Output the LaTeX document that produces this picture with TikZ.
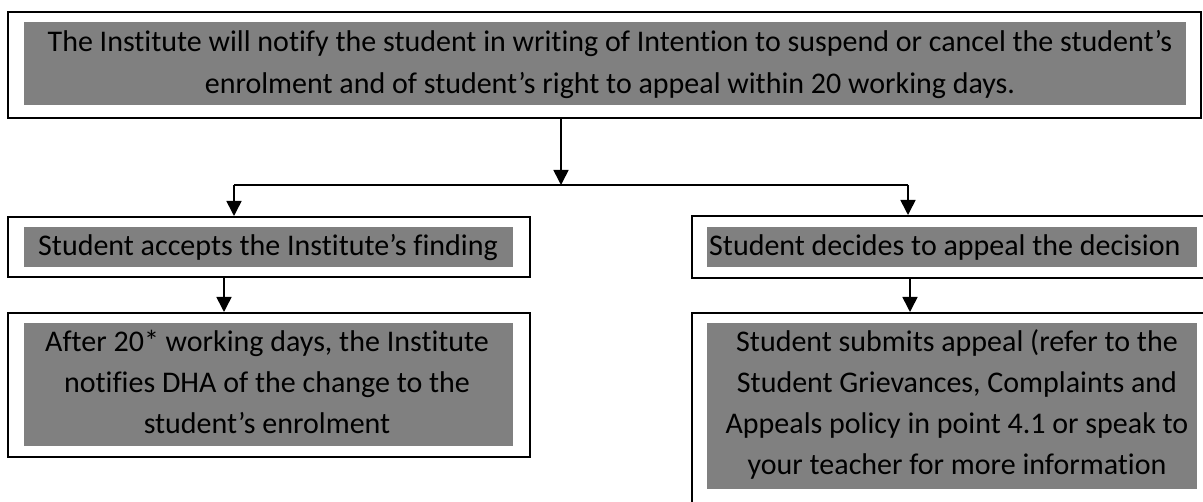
\documentclass[tikz,border=0pt]{standalone}
\usepackage{fontspec}
\setmainfont{Carlito}[Ligatures={NoCommon,NoContextual}]
\usetikzlibrary{arrows.meta}
\definecolor{hlgray}{HTML}{808080}
\tikzset{
  frame/.style={draw=black, line width=1.6pt, fill=white, inner sep=0pt, anchor=north west},
  topframe/.style={frame, line width=2pt},
  shade/.style={fill=hlgray, draw=none, inner sep=0pt, anchor=north west},
  txt/.style={inner sep=0pt, anchor=base, font=\fontsize{30}{41.5}\selectfont, text=black},
  arr/.style={line width=1.6pt, -{Triangle[width=15pt,length=15pt]}},
  plain/.style={line width=1.6pt}
}
\begin{document}
\begin{tikzpicture}[x=1pt,y=-1pt]
\useasboundingbox (0,0) rectangle (1203,502);
% top
\node[topframe, minimum width=1193pt, minimum height=106pt] (top) at (7,11) {};
\node[shade, minimum width=1162pt, minimum height=83pt] (topg) at (24,22) {};
\node[txt, align=center] (topt) at (610,93.5) {The Institute will notify the student in writing of Intention to suspend or cancel the student’s\\enrolment and of student’s right to appeal within 20 working days.};
% left column
\node[frame, minimum width=522pt, minimum height=60pt] (l3) at (7,216) {};
\node[shade, minimum width=489pt, minimum height=40pt] (l3g) at (24,227) {};
\node[txt] (l3t) at (268,255.5) {Student accepts the Institute’s finding};
\node[frame, minimum width=522pt, minimum height=144pt] (l4) at (7,312) {};
\node[shade, minimum width=489pt, minimum height=123pt] (l4g) at (24,323) {};
\node[txt, align=center, font=\fontsize{30}{41}\selectfont] (l4t) at (267,434) {After 20* working days, the Institute\\notifies DHA of the change to the\\student’s enrolment};
% right column
\node[frame, minimum width=520pt, minimum height=62pt] (r3) at (691,215) {};
\node[shade, minimum width=490pt, minimum height=40pt] (r3g) at (707,227) {};
\node[txt, anchor=base west] (r3t) at (709,255.5) {Student decides to appeal the decision};
\node[frame, minimum width=520pt, minimum height=200pt] (r4) at (691,312) {};
\node[shade, minimum width=490pt, minimum height=166pt] (r4g) at (707,323) {};
\node[txt, align=center, font=\fontsize{30}{41}\selectfont] (r4t) at (957,475) {Student submits appeal (refer to the\\Student Grievances, Complaints and\\Appeals policy in point 4.1 or speak to\\your teacher for more information};
% connectors
\coordinate (j) at (561,185);
\coordinate (jl) at (234,185);
\coordinate (jr) at (908,185);
\coordinate (al) at (224,0);
\coordinate (ar) at (910,0);
\draw[arr] (top.south -| j) -- (j);
\draw[plain] (jl) -- (jr);
\draw[arr] (jl) -- (jl |- l3.north);
\draw[arr] (jr) -- (jr |- r3.north);
\draw[arr] (l3.south -| al) -- (l4.north -| al);
\draw[arr] (r3.south -| ar) -- (r4.north -| ar);
\end{tikzpicture}
\end{document}
